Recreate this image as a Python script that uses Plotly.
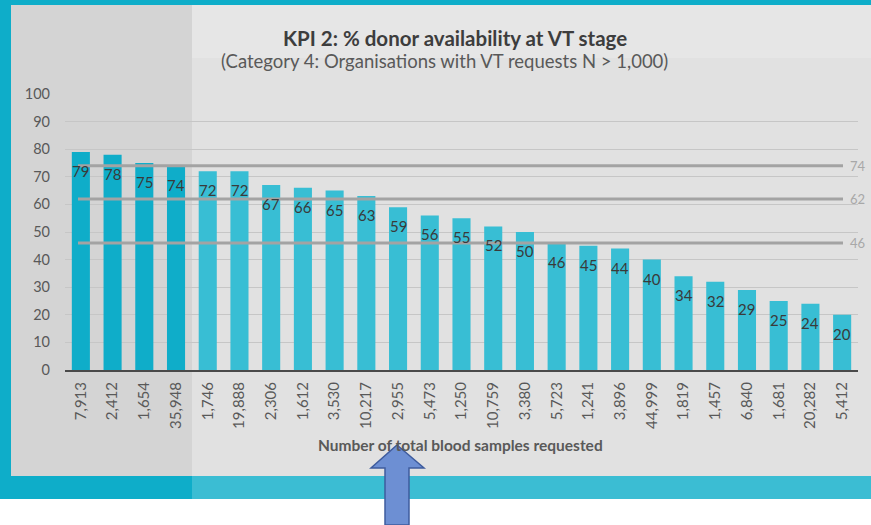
import plotly.graph_objects as go

# ---- data ----
categories = ["7,913", "2,412", "1,654", "35,948", "1,746", "19,888", "2,306", "1,612",
              "3,530", "10,217", "2,955", "5,473", "1,250", "10,759", "3,380", "5,723",
              "1,241", "3,896", "44,999", "1,819", "1,457", "6,840", "1,681", "20,282", "5,412"]
values = [79, 78, 75, 74, 72, 72, 67, 66, 65, 63, 59, 56, 55, 52, 50, 46, 45, 44, 40,
          34, 32, 29, 25, 24, 20]
ref_values = [74, 62, 46]
y_ticks = [0, 10, 20, 30, 40, 50, 60, 70, 80, 90, 100]

title_text = "KPI 2: % donor availability at VT stage"
subtitle_text = "(Category 4: Organisations with VT requests N > 1,000)"
xaxis_title = "Number of total blood samples requested"

# ---- layout geometry (pixels) ----
W, H = 871, 525
L, R, T, B = 65, 858, 94, 370


def px(x):
    return (x - L) / (R - L)


def py(y):
    return (B - y) / (B - T)


FONT = "Lato, 'Open Sans', sans-serif"

bar_colors = ["#0FADC9" if i < 4 else "#38BED4" for i in range(len(values))]

fig = go.Figure()
fig.add_trace(go.Bar(
    x=categories, y=values,
    marker=dict(color=bar_colors, line=dict(width=0)),
    hoverinfo="x+y",
))


def rect(x0, x1, y0, y1, color, layer="below"):
    return dict(type="rect", xref="paper", yref="paper", x0=px(x0), x1=px(x1),
                y0=py(y1), y1=py(y0), fillcolor=color, line=dict(width=0), layer=layer)


shapes = [
    rect(11, 871, 5, 476, "#dcdcdc"),
    rect(192, 871, 5, 58, "#e6e6e6"),
    rect(192, 871, 58, 476, "#e1e1e1"),
    rect(11, 192, 5, 476, "#d4d4d4"),
    rect(192, 871, 476, 499, "#3BBDD3"),
    rect(0, 871, 499, 525, "#ffffff"),
]

# reference lines
for rv in ref_values:
    shapes.append(dict(type="line", xref="paper", yref="y", x0=px(78), x1=px(843),
                       y0=rv, y1=rv, line=dict(color="#a3a3a3", width=3), layer="above"))

# arrow
ax = [397, 424, 409, 409, 385, 385, 371]
ay = [445, 468, 468, 525, 525, 468, 468]
path = "M " + " L ".join(f"{px(a)},{py(b)}" for a, b in zip(ax, ay)) + " Z"
shapes.append(dict(type="path", xref="paper", yref="paper", path=path,
                   fillcolor="#6D8FD3", line=dict(color="#3E5C9E", width=1.5), layer="above"))

annotations = [
    dict(text=f"<b>{title_text}</b>", x=px(455), y=py(38), xref="paper", yref="paper",
         showarrow=False, font=dict(family=FONT, size=20.5, color="#3d3d3d"),
         xanchor="center", yanchor="middle"),
    dict(text=subtitle_text, x=px(444), y=py(61), xref="paper", yref="paper",
         showarrow=False, font=dict(family=FONT, size=18.5, color="#595959"),
         xanchor="center", yanchor="middle"),
    dict(text=f"<b>{xaxis_title}</b>", x=px(460), y=py(445), xref="paper", yref="paper",
         showarrow=False, font=dict(family=FONT, size=15.5, color="#595959"),
         xanchor="center", yanchor="middle"),
]
# value labels just inside the top of each bar
for c, v in zip(categories, values):
    annotations.append(dict(text=str(v), x=c, y=v, xref="x", yref="y", showarrow=False,
                            yshift=-19, xanchor="center", yanchor="middle",
                            font=dict(family=FONT, size=15, color="#3a3a3a")))
for rv in ref_values:
    annotations.append(dict(text=str(rv), x=px(848), y=rv, xref="paper", yref="y",
                            showarrow=False, xanchor="left", yanchor="middle",
                            font=dict(family=FONT, size=13, color="#a8a8a8")))

fig.update_layout(
    width=W, height=H,
    margin=dict(l=L, r=W - R, t=T, b=H - B, pad=0),
    paper_bgcolor="#0EADC9",
    plot_bgcolor="rgba(0,0,0,0)",
    showlegend=False,
    bargap=0.43,
    shapes=shapes,
    annotations=annotations,
    font=dict(family=FONT, color="#595959"),
)
fig.update_yaxes(range=[0, 100], tickvals=y_ticks, showgrid=True, gridcolor="#c6c6c6",
                 gridwidth=1, zeroline=False, showline=False, ticks="",
                 ticklabelstandoff=14,
                 tickfont=dict(family=FONT, size=14.5, color="#595959"))
fig.update_xaxes(type="category", tickangle=-90, showline=True, linecolor="#4a4a4a",
                 linewidth=2, ticks="", showgrid=False, ticklabelstandoff=4,
                 tickfont=dict(family=FONT, size=15, color="#595959"))

fig.write_html("out.html", config={"displayModeBar": False},
               post_script="document.body.style.margin='0';document.body.style.overflow='hidden';")
